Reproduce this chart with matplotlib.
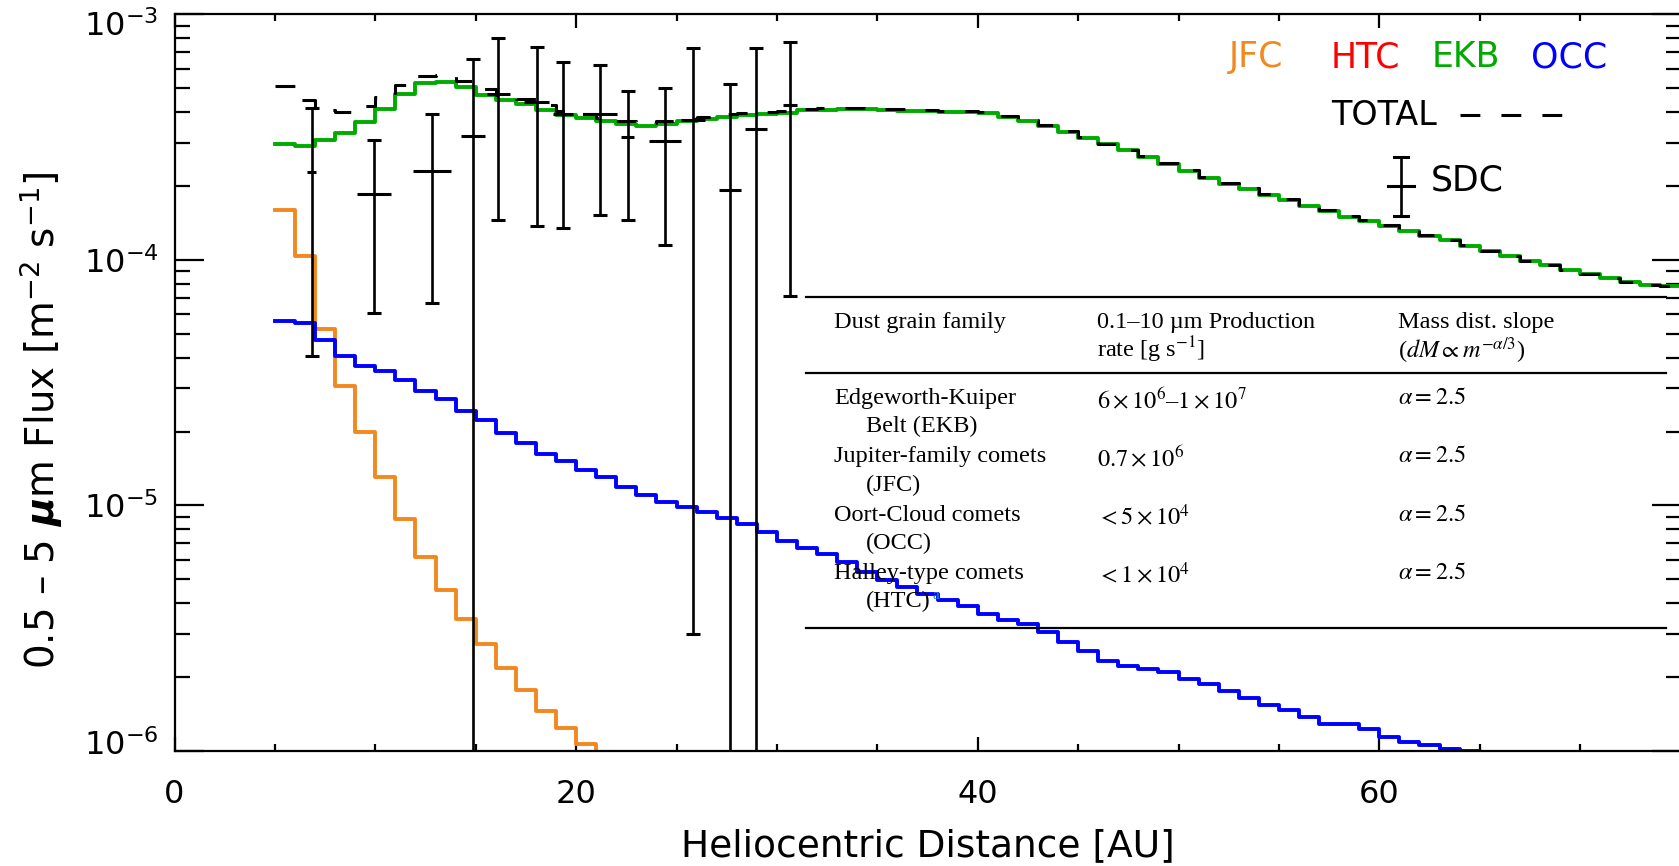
import numpy as np
import matplotlib.pyplot as plt
from matplotlib.ticker import MultipleLocator, LogLocator, NullFormatter
from matplotlib.transforms import ScaledTranslation

W, H = 1679, 866

# flux per 1 AU distance bin, first bin starts at 5 AU
r_start = 5
jfc_flux = [1.59e-4, 1.04e-4, 5.25e-5, 3.06e-5, 2.00e-5, 1.30e-5, 8.83e-6, 6.15e-6,
            4.54e-6, 3.44e-6, 2.73e-6, 2.18e-6, 1.77e-6, 1.46e-6, 1.24e-6, 1.07e-6]
ekb_flux = [2.95e-4, 2.90e-4, 3.08e-4, 3.30e-4, 3.65e-4, 4.12e-4, 4.73e-4, 5.23e-4,
            5.32e-4, 5.07e-4, 4.71e-4, 4.49e-4, 4.32e-4, 4.09e-4, 3.88e-4, 3.77e-4,
            3.66e-4, 3.56e-4, 3.51e-4, 3.56e-4, 3.66e-4, 3.73e-4, 3.83e-4, 3.88e-4,
            3.93e-4, 3.97e-4, 4.06e-4, 4.08e-4, 4.10e-4, 4.10e-4, 4.08e-4, 4.05e-4,
            4.04e-4, 4.01e-4, 3.99e-4, 3.95e-4, 3.83e-4, 3.68e-4, 3.51e-4, 3.33e-4,
            3.13e-4, 2.95e-4, 2.79e-4, 2.62e-4, 2.45e-4, 2.31e-4, 2.16e-4, 2.04e-4,
            1.94e-4, 1.84e-4, 1.75e-4, 1.66e-4, 1.58e-4, 1.50e-4, 1.44e-4, 1.37e-4,
            1.31e-4, 1.25e-4, 1.20e-4, 1.14e-4, 1.09e-4, 1.04e-4, 9.94e-5, 9.54e-5,
            9.12e-5, 8.75e-5, 8.43e-5, 8.10e-5, 7.92e-5, 7.80e-5]
occ_flux = [5.64e-5, 5.54e-5, 4.71e-5, 4.06e-5, 3.69e-5, 3.54e-5, 3.24e-5, 2.93e-5,
            2.72e-5, 2.43e-5, 2.22e-5, 1.98e-5, 1.80e-5, 1.62e-5, 1.51e-5, 1.39e-5,
            1.30e-5, 1.19e-5, 1.10e-5, 1.03e-5, 9.90e-6, 9.39e-6, 8.90e-6, 8.43e-6,
            7.79e-6, 7.15e-6, 6.70e-6, 6.33e-6, 5.90e-6, 5.34e-6, 4.98e-6, 4.64e-6,
            4.36e-6, 4.12e-6, 3.88e-6, 3.61e-6, 3.42e-6, 3.29e-6, 3.06e-6, 2.77e-6,
            2.56e-6, 2.33e-6, 2.22e-6, 2.16e-6, 2.09e-6, 1.96e-6, 1.87e-6, 1.76e-6,
            1.65e-6, 1.54e-6, 1.47e-6, 1.38e-6, 1.29e-6, 1.29e-6, 1.23e-6, 1.14e-6,
            1.09e-6, 1.06e-6, 1.02e-6, 1.00e-6]

# New Horizons SDC measurements (lower bound 0 = consistent with zero)
sdc_r = [6.83, 9.92, 12.84, 14.88, 16.13, 18.04, 19.34, 21.19, 22.57, 24.43,
         25.81, 27.66, 28.96, 30.65]
sdc_dr = [0.22, 0.85, 0.95, 0.60, 0.56, 0.63, 0.50, 0.83, 0.33, 0.80,
          0.60, 0.54, 0.54, 0.35]
sdc_flux = [2.27e-4, 1.85e-4, 2.30e-4, 3.20e-4, 4.72e-4, 4.38e-4, 3.91e-4, 3.91e-4,
            3.17e-4, 3.06e-4, 3.70e-4, 1.92e-4, 3.41e-4, 4.27e-4]
sdc_hi = [4.14e-4, 3.09e-4, 3.94e-4, 6.56e-4, 7.98e-4, 7.38e-4, 6.41e-4, 6.21e-4,
          4.89e-4, 4.99e-4, 7.31e-4, 5.19e-4, 7.31e-4, 7.73e-4]
sdc_lo = [4.06e-5, 6.07e-5, 6.66e-5, 0.0, 1.45e-4, 1.38e-4, 1.35e-4, 1.52e-4,
          1.46e-4, 1.15e-4, 2.99e-6, 0.0, 0.0, 7.13e-5]

# y decades that get a label
y_decades = [-6, -5, -4, -3]

# production-rate table
tab_family = ["Edgeworth-Kuiper", "Jupiter-family comets", "Oort-Cloud comets",
              "Halley-type comets"]
tab_family2 = ["Belt (EKB)", "(JFC)", "(OCC)", "(HTC)"]
tab_rate = [r"$6\times10^{6}$–$1\times10^{7}$", r"$0.7\times10^{6}$",
            r"$<5\times10^{4}$", r"$<1\times10^{4}$"]
tab_slope = [r"$\alpha=2.5$"] * 4

JFC_C = '#f28920'
HTC_C = '#ff0000'
EKB_C = '#00ab00'
OCC_C = '#0000ff'

plt.rcParams['font.family'] = 'DejaVu Sans'

fig = plt.figure(figsize=(W / 100, H / 100), dpi=100)
ax = fig.add_axes([174.5 / W, 115 / H, 1506 / W, 736.7 / H])
ax.set_yscale('log')
ax.set_xlim(0, 75)
ax.set_ylim(10.0 ** y_decades[0], 10.0 ** y_decades[-1])
floor = 1e-7


def draw_steps(values, color, drop=False, **kw):
    values = np.asarray(values)
    edges = r_start + np.arange(len(values) + 1)
    tail = floor if drop else values[-1]
    ax.plot(edges, np.append(values, tail), drawstyle='steps-post',
            color=color, **kw)


total = np.array(ekb_flux)
total[:len(jfc_flux)] += jfc_flux
total[:len(occ_flux)] += occ_flux

draw_steps(jfc_flux, JFC_C, drop=True, lw=2.8)
draw_steps(occ_flux, OCC_C, drop=True, lw=2.8)
draw_steps(ekb_flux, EKB_C, lw=2.8)
draw_steps(total, 'k', lw=2.2, dashes=(6.5, 6.9))

sdc_flux = np.array(sdc_flux)
yerr = [sdc_flux - np.array(sdc_lo), np.array(sdc_hi) - sdc_flux]
ax.errorbar(sdc_r, sdc_flux, yerr=yerr, fmt='none', ecolor='k',
            elinewidth=1.9, capsize=5.3, capthick=2.2)
ax.errorbar(sdc_r, sdc_flux, xerr=sdc_dr, fmt='none', ecolor='k',
            elinewidth=2.2, capsize=0)

# axes styling
for s in ax.spines.values():
    s.set_linewidth(1.6)
ax.xaxis.set_major_locator(MultipleLocator(20))
ax.xaxis.set_minor_locator(MultipleLocator(5))
ax.yaxis.set_minor_locator(LogLocator(base=10, subs=np.arange(2, 10)))
ax.yaxis.set_minor_formatter(NullFormatter())
ax.yaxis.set_major_formatter(NullFormatter())
ax.tick_params(which='both', direction='in', top=True, right=True, width=1.6,
               labelsize=23)
ax.tick_params(axis='x', which='major', length=10, pad=20)
ax.tick_params(axis='x', which='minor', length=5)
ax.tick_params(axis='y', which='major', length=21)
ax.tick_params(axis='y', which='minor', length=11)

# decade labels; the two end ones are nudged inside the frame
for k in y_decades:
    dy = {y_decades[0]: 9, y_decades[-1]: -9}.get(k, 0) / 100
    tr = ax.get_yaxis_transform() + ScaledTranslation(-0.16, dy,
                                                      fig.dpi_scale_trans)
    ax.text(0, 10.0 ** k, r'$\mathdefault{10^{%d}}$' % k, fontsize=23,
            transform=tr, ha='right', va='center_baseline')

ax.set_xlabel('Heliocentric Distance [AU]', fontsize=27, va='center')
ax.xaxis.set_label_coords(0.5, -0.129)
ax.set_ylabel(r'0.5 – 5 $\boldsymbol{\mu}$m Flux [m$^{-2}$ s$^{-1}$]',
              fontsize=28, va='center')
ax.yaxis.set_label_coords(-0.0886, 0.449)

# legend written as coloured labels
for lab, col, x in [('JFC', JFC_C, 0.700), ('HTC', HTC_C, 0.768),
                    ('EKB', EKB_C, 0.835), ('OCC', OCC_C, 0.901)]:
    ax.text(x, 0.942, lab, color=col, fontsize=25, transform=ax.transAxes,
            va='center', ha='left')
ax.text(0.768, 0.863, 'TOTAL', fontsize=24, transform=ax.transAxes,
        va='center', ha='left')
ax.plot([0.8536, 0.921], [0.863, 0.863], color='k', lw=2.2, dashes=(6.5, 6.9),
        transform=ax.transAxes)
gx = 0.8144
ax.plot([gx, gx], [0.726, 0.806], color='k', lw=1.9, transform=ax.transAxes)
for gy, hw in [(0.726, 0.0049), (0.806, 0.0049), (0.767, 0.0086)]:
    ax.plot([gx - hw, gx + hw], [gy, gy], color='k', lw=2.2,
            transform=ax.transAxes)
ax.text(0.834, 0.775, 'SDC', fontsize=25, transform=ax.transAxes,
        va='center', ha='left')


# production-rate table, placed in figure pixels
def fxy(x, y):
    return x / W, 1 - y / H


tkw = dict(fontsize=17.5, family='Liberation Serif', math_fontfamily='stix',
           va='baseline', zorder=5)
for yy in (297.3, 372.7, 627.7):
    fig.add_artist(plt.Line2D([806 / W, 1666 / W], [1 - yy / H] * 2,
                              color='k', lw=1.6))
c1, c1b, c2, c3 = 834.5, 866, 1097, 1398
fig.text(*fxy(c1, 328), 'Dust grain family', **tkw)
fig.text(*fxy(c2, 328), '0.1–10 µm Production', **tkw)
fig.text(*fxy(c2, 357), r'rate [g s$^{-1}$]', **tkw)
fig.text(*fxy(c3, 328), 'Mass dist. slope', **tkw)
fig.text(*fxy(c3, 358), r'($dM\propto m^{-\alpha/3}$)', **tkw)
for i in range(len(tab_family)):
    y0 = 404 + 58.3 * i
    fig.text(*fxy(c1, y0), tab_family[i], **tkw)
    sub = fig.text(*fxy(c1b, y0 + 28.5), tab_family2[i], **tkw)
    fig.text(*fxy(c2, y0 + 4), tab_rate[i], **tkw)
    fig.text(*fxy(c3, y0), tab_slope[i], **tkw)

# footnote mark after "(HTC)"
fig.add_artist(plt.Annotation('a', xy=(1.02, 0.8), xycoords=sub, fontsize=11,
                              family='Liberation Serif', color='#2b8fc7',
                              va='center', ha='left', zorder=6))

fig.savefig('out.png', dpi=100)
